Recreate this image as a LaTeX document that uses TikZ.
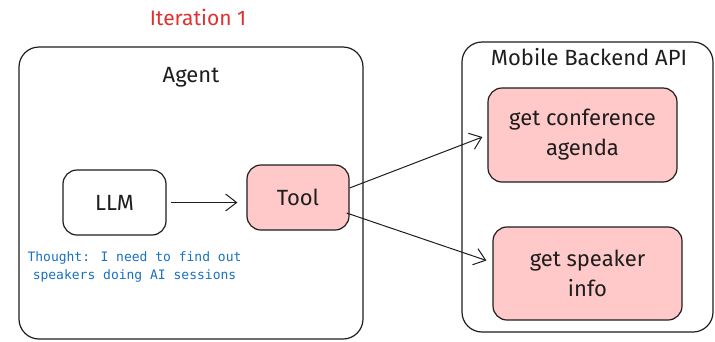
\documentclass[tikz,border=0pt]{standalone}
\usepackage{fontspec}
\setmainfont{Fira Sans}
\newfontfamily\thoughtfont{DejaVu Sans Mono}
\usetikzlibrary{arrows.meta}
\definecolor{inkc}{HTML}{1E1E1E}
\definecolor{pinkc}{HTML}{FFC9C9}
\definecolor{redc}{HTML}{E03131}
\definecolor{bluec}{HTML}{1971C2}
\tikzset{
  frame/.style={draw=inkc, line width=1.2pt, rounded corners=20pt},
  box/.style={draw=inkc, line width=1.2pt, rounded corners=14pt, align=center,
    font=\fontsize{22}{30}\selectfont, text=inkc},
  pinkbox/.style={box, fill=pinkc},
  conn/.style={draw=inkc, line width=1pt, -{Straight Barb[length=11pt,width=17pt,line width=1pt]}},
  title/.style={font=\fontsize{22}{26}\selectfont, text=inkc}
}
\begin{document}
\begin{tikzpicture}[x=1pt,y=-1pt]
\path[use as bounding box, fill=white] (0,0) rectangle (715,341);
\node[frame, minimum width=344pt, minimum height=292pt] (agent) at (191,193) {};
\node[frame, minimum width=251pt, minimum height=290pt] (api) at (587.5,187) {};
\node[font=\fontsize{21}{25}\selectfont, text=redc] (iter) at (198,17) {Iteration 1};
\node[title] (agentlbl) at (191,77) {Agent};
\node[title] (apilbl) at (589,57) {Mobile Backend API};
\node[box, minimum width=103pt, minimum height=65pt] (llm) at (114.5,202.5) {LLM};
\node[pinkbox, minimum width=102pt, minimum height=65pt] (tool) at (298,197.5) {Tool};
\node[pinkbox, minimum width=189pt, minimum height=94pt] (conf) at (582.5,135) {get conference\\agenda};
\node[pinkbox, minimum width=189pt, minimum height=93pt] (spk) at (587.5,273.5) {get speaker\\info};
\node[text=bluec, align=center, font=\thoughtfont\fontsize{13}{18}\selectfont] (thought) at (134.5,267) {Thought: I need to find out\\ speakers doing AI sessions};
\draw[conn, shorten <=4pt, shorten >=9pt] (llm.east) -- (tool.west |- llm.east);
\draw[conn] ([yshift=9.5pt]tool.east) -- ([yshift=-2pt,xshift=-5pt]conf.west);
\draw[conn] ([yshift=-15.5pt,xshift=-3pt]tool.east) -- ([yshift=13pt,xshift=-6pt]spk.west);
\end{tikzpicture}
\end{document}
